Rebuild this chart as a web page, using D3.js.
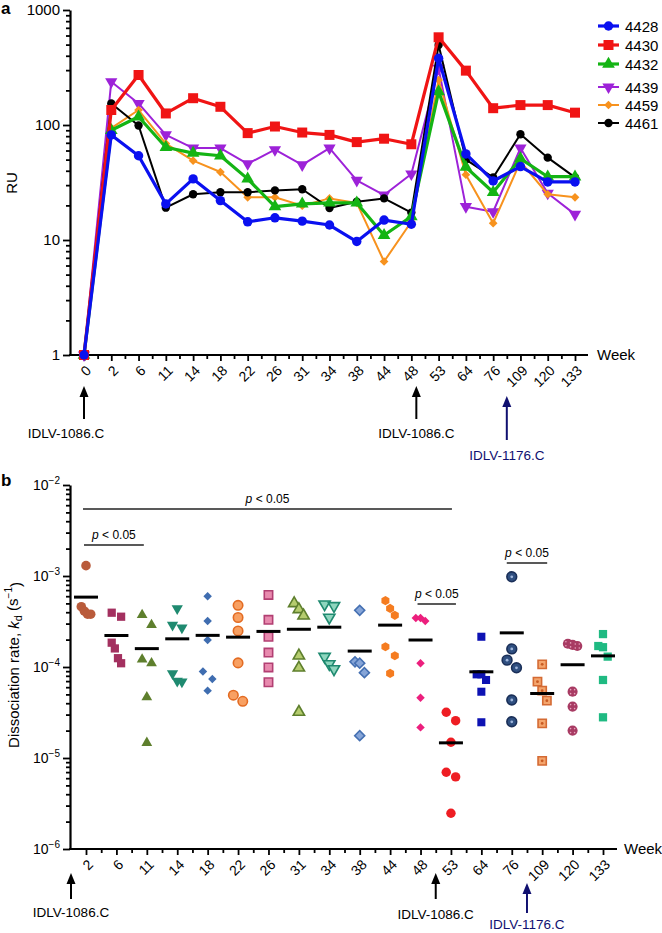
<!DOCTYPE html>
<html>
<head>
<meta charset="utf-8">
<script src="https://cdn.jsdelivr.net/npm/d3@7"></script>
<style>
  body { margin: 0; background: #fff; }
  svg { font-family: "Liberation Sans", Arial, sans-serif; }
</style>
</head>
<body>
<script>
// ---------- panel a data (RU per animal) ----------
const weeksA = ["0","2","6","11","14","18","22","26","31","34","38","44","48","53","64","76","109","120","133"];
const s4428 = [1, 82, 54, 20.6, 34, 22, 14.4, 15.6, 14.6, 13.5, 9.7, 14.9, 13.7, 380, 56, 32.6, 43.5, 32, 32];
const s4430 = [1, 135, 272, 126, 171, 144, 85, 97, 86, 82, 71, 76, 68, 579, 297, 140, 149, 149, 128];
const s4432 = [1, 90, 118, 64, 57, 54, 34, 19.5, 20.6, 21, 21, 11, 16, 195, 43, 26, 51, 35.5, 35.5];
const s4439 = [1, 238, 154, 82, 63, 63, 46, 61, 45, 63, 33, 24.6, 37.5, 311, 19.5, 17.6, 63, 25.5, 16.7];
const s4459 = [1, 94, 135, 69, 49, 39, 23.5, 23.5, 19.9, 23, 21, 6.5, 14.4, 246, 37, 14, 48, 25, 23.5];
const s4461 = [1, 154, 99, 19.1, 25, 26, 26, 27, 27.6, 19, 21.5, 23, 17.3, 496, 50, 35, 83, 52, 35];
const animals = ["4428","4430","4432","4439","4459","4461"];
const ticksA = [1, 10, 100, 1000];

// ---------- panel b data (kd, s^-1, per week) ----------
const weeksB = ["2","6","11","14","18","22","26","31","34","38","44","48","53","64","76","109","120","133"];
const kd_w2   = [1.3e-3, 4.6e-4, 4.1e-4, 3.8e-4, 3.8e-4];
const kd_w6   = [3.95e-4, 3.57e-4, 1.85e-4, 1.6e-4, 1.25e-4, 1.1e-4];
const kd_w11  = [3.73e-4, 2.9e-4, 1.21e-4, 1.1e-4, 4.65e-5, 1.47e-5];
const kd_w14  = [4.4e-4, 2.9e-4, 2.7e-4, 8.5e-5, 7.0e-5, 6.9e-5];
const kd_w18  = [6.0e-4, 3.2e-4, 1.98e-4, 8.9e-5, 7.4e-5, 5.5e-5];
const kd_w22  = [4.76e-4, 3.5e-4, 2.49e-4, 1.11e-4, 4.9e-5, 4.2e-5];
const kd_w26  = [6.2e-4, 3.3e-4, 2.15e-4, 1.44e-4, 9.9e-5, 6.8e-5];
const kd_w31  = [5.0e-4, 4.3e-4, 3.66e-4, 1.33e-4, 9.8e-5, 3.2e-5];
const kd_w34  = [4.9e-4, 4.7e-4, 3.5e-4, 1.3e-4, 1.08e-4, 9.5e-5];
const kd_w38  = [4.2e-4, 1.14e-4, 1.1e-4, 8.65e-5, 1.76e-5];
const kd_w44  = [5.36e-4, 4.4e-4, 3.7e-4, 1.67e-4, 1.33e-4, 8.5e-5];
const kd_w48  = [3.45e-4, 3.45e-4, 3.2e-4, 1.1e-4, 4.6e-5, 2.17e-5];
const kd_w53  = [3.18e-5, 2.57e-5, 1.49e-5, 6.97e-6, 6.2e-6, 2.47e-6];
const kd_w64  = [2.15e-4, 8.3e-5, 8.3e-5, 7.2e-5, 5.35e-5, 2.47e-5];
const kd_w76  = [9.8e-4, 1.58e-4, 1.19e-4, 9.8e-5, 4.34e-5, 2.5e-5];
const kd_w109 = [1.07e-4, 6.9e-5, 5.5e-5, 4.27e-5, 2.4e-5, 9.3e-6];
const kd_w120 = [1.8e-4, 1.75e-4, 1.7e-4, 5.36e-5, 3.67e-5, 2.0e-5];
const kd_w133 = [2.3e-4, 1.7e-4, 1.65e-4, 1.3e-4, 7.2e-5, 2.8e-5];
const kdByWeek = [kd_w2, kd_w6, kd_w11, kd_w14, kd_w18, kd_w22, kd_w26, kd_w31, kd_w34,
                  kd_w38, kd_w44, kd_w48, kd_w53, kd_w64, kd_w76, kd_w109, kd_w120, kd_w133];
const ticksB = [1e-6, 1e-5, 1e-4, 1e-3, 1e-2];
// significance comparisons (week pairs)
const comparisons = [["2","53"], ["2","11"], ["48","53"], ["76","109"]];
const pText = "< 0.05";

// ---------- styles ----------
const seriesStyle = {
  "4428": {color: "#0a10f0", w: 3.2, shape: "circle", size: 70},
  "4430": {color: "#f01414", w: 3.2, shape: "square", size: 100},
  "4432": {color: "#14b414", w: 3.2, shape: "triangle", size: 70},
  "4439": {color: "#9d22d8", w: 2, shape: "down", size: 65},
  "4459": {color: "#f7921e", w: 2, shape: "diamond", size: 38},
  "4461": {color: "#000000", w: 2, shape: "circle", size: 55}
};
const weekStyle = [
  {shape: "circle",   fill: "#b95b3b", size: 72},
  {shape: "square",   fill: "#a3305f", size: 68},
  {shape: "triangle", fill: "#5e7f2d", size: 50},
  {shape: "down",     fill: "#1f8a70", size: 55},
  {shape: "diamond",  fill: "#3f6db0", size: 36},
  {shape: "circle",   fill: "#f8a062", stroke: "#e36b22", size: 70},
  {shape: "square",   fill: "#e88aae", stroke: "#b23f72", size: 70},
  {shape: "triangle", fill: "#b5cc6e", stroke: "#5e7f2d", size: 55},
  {shape: "down",     fill: "#8ed6be", stroke: "#1f8a70", size: 55},
  {shape: "diamond",  fill: "#86a5d8", stroke: "#4570b2", size: 50},
  {shape: "hexagon",  fill: "#f57c20", size: 55},
  {shape: "diamond",  fill: "#ec1f7d", size: 36},
  {shape: "circle",   fill: "#ee1d23", size: 70},
  {shape: "square",   fill: "#0d12b3", size: 65},
  {shape: "circle",   fill: "#2f4f80", stroke: "#1a2f58", size: 75, dot: "#9fb6dc"},
  {shape: "square",   fill: "#f4a56d", stroke: "#d46a33", size: 68, dot: "#c85a22"},
  {shape: "circle",   fill: "#a83b63", size: 80, dots: "#e7a3be"},
  {shape: "square",   fill: "#1fba82", size: 68}
];

const width = 662, height = 933;
const svg = d3.select("body").append("svg").attr("width", width).attr("height", height);

const hexagon = {
  draw(ctx, size) {
    const r = Math.sqrt(size / (1.5 * Math.sqrt(3)));
    for (let i = 0; i < 6; i++) {
      const a = Math.PI / 6 + i * Math.PI / 3;
      i ? ctx.lineTo(r * Math.cos(a), r * Math.sin(a)) : ctx.moveTo(r * Math.cos(a), r * Math.sin(a));
    }
    ctx.closePath();
  }
};
function symbolPath(shape, size) {
  const type = {circle: d3.symbolCircle, square: d3.symbolSquare, triangle: d3.symbolTriangle,
                down: d3.symbolTriangle, diamond: d3.symbolSquare, hexagon: hexagon}[shape];
  return d3.symbol().type(type).size(size)();
}
function symbolRot(shape) {
  return shape === "down" ? " rotate(180)" : shape === "diamond" ? " rotate(45)" : "";
}
function styleAxis(g, fs) {
  g.attr("font-family", null).attr("font-size", fs);
  g.selectAll("line").attr("stroke-width", 1.8);
  g.selectAll(".domain").attr("stroke-width", 2.2);
}
function arrow(g, x, yTip, yEnd, color) {
  g.append("line").attr("x1", x).attr("x2", x).attr("y1", yTip + 6).attr("y2", yEnd)
    .attr("stroke", color).attr("stroke-width", 2);
  g.append("path").attr("d", `M${x},${yTip} L${x - 4.5},${yTip + 11} L${x + 4.5},${yTip + 11} Z`)
    .attr("fill", color);
}

// =================== panel a ===================
const xA = d3.scalePoint().domain(weeksA).range([84, 575]);
const xiA = d3.scaleLinear().domain([0, weeksA.length - 1]).range([84, 575]);
const yA = d3.scaleLog().domain([1, 1000]).range([355, 10]);
const gA = svg.append("g");

const minorA = [];
for (let e = 0; e < 3; e++) for (let m = 2; m < 10; m++) minorA.push(m * 10 ** e);

gA.append("g").attr("transform", "translate(70,0)")
  .call(d3.axisLeft(yA).tickValues(ticksA).tickFormat(d3.format("d")).tickSize(7).tickSizeOuter(0))
  .call(g => styleAxis(g, 15))
  .call(g => g.selectAll("text").attr("x", -10));
gA.append("g").attr("transform", "translate(70,0)")
  .call(d3.axisLeft(yA).tickValues(minorA).tickFormat("").tickSize(4))
  .call(g => styleAxis(g, 15))
  .call(g => g.select(".domain").remove());

gA.append("g").attr("transform", "translate(0,355)")
  .call(d3.axisBottom(xA).tickSize(6).tickSizeOuter(0))
  .call(g => styleAxis(g, 14))
  .call(g => g.select(".domain").remove())
  .call(g => g.selectAll("text").attr("x", 0).attr("y", 0).attr("dy", "0.35em")
    .attr("text-anchor", "end").attr("transform", "translate(4,13) rotate(-45)"));
gA.append("g").attr("transform", "translate(0,355)")
  .call(d3.axisBottom(xiA).tickValues(d3.range(0.5, weeksA.length - 1, 1)).tickFormat("").tickSize(4))
  .call(g => styleAxis(g, 14))
  .call(g => g.select(".domain").remove());
gA.append("line").attr("x1", 69).attr("x2", 588).attr("y1", 355).attr("y2", 355)
  .attr("stroke", "#000").attr("stroke-width", 2.2);

gA.append("text").attr("x", 597).attr("y", 360).attr("font-size", 15).text("Week");
gA.append("text").attr("transform", "translate(17,183) rotate(-90)").attr("text-anchor", "middle")
  .attr("font-size", 15).text("RU");
svg.append("text").attr("x", 1).attr("y", 14).attr("font-size", 17).attr("font-weight", "bold").text("a");

const seriesData = {"4428": s4428, "4430": s4430, "4432": s4432, "4439": s4439, "4459": s4459, "4461": s4461};
const drawOrder = ["4439", "4459", "4461", "4432", "4430", "4428"];
const line = d3.line().x((d, i) => xA(weeksA[i])).y(d => yA(d));
drawOrder.forEach(key => {
  const st = seriesStyle[key];
  const vals = seriesData[key];
  gA.append("path").datum(vals).attr("fill", "none").attr("stroke", st.color)
    .attr("stroke-width", st.w).attr("stroke-linejoin", "round").attr("d", line);
  gA.append("g").selectAll("path").data(vals).join("path")
    .attr("transform", (d, i) => `translate(${xA(weeksA[i])},${yA(d)})${symbolRot(st.shape)}`)
    .attr("d", symbolPath(st.shape, st.size)).attr("fill", st.color);
});

// legend
const legendY = [26, 45, 64, 87, 105, 123];
animals.forEach((key, i) => {
  const st = seriesStyle[key];
  const lg = gA.append("g").attr("transform", `translate(598,${legendY[i]})`);
  lg.append("line").attr("x1", 0).attr("x2", 21).attr("stroke", st.color).attr("stroke-width", st.w);
  lg.append("path").attr("transform", `translate(10.5,0)${symbolRot(st.shape)}`)
    .attr("d", symbolPath(st.shape, st.size)).attr("fill", st.color);
  lg.append("text").attr("x", 27).attr("y", 5.5).attr("font-size", 15).text(key);
});

// immunisation arrows (panel a)
arrow(gA, xA("0"), 386, 419, "#000");
arrow(gA, xA("48") + 5, 386, 419, "#000");
arrow(gA, (xA("76") + xA("109")) / 2, 396, 440, "#101070");
gA.append("text").attr("x", 66).attr("y", 438).attr("text-anchor", "middle").attr("font-size", 13.5).text("IDLV-1086.C");
gA.append("text").attr("x", xA("48") + 5).attr("y", 438).attr("text-anchor", "middle").attr("font-size", 13.5).text("IDLV-1086.C");
gA.append("text").attr("x", (xA("76") + xA("109")) / 2).attr("y", 460).attr("text-anchor", "middle")
  .attr("font-size", 13.5).attr("fill", "#101070").text("IDLV-1176.C");

// =================== panel b ===================
const xB = d3.scalePoint().domain(weeksB).range([86, 603]);
const xiB = d3.scaleLinear().domain([0, weeksB.length - 1]).range([86, 603]);
const yB = d3.scaleLog().domain([1e-6, 1e-2]).range([849, 485]);
const gB = svg.append("g");

const minorB = [];
for (let e = -6; e < -2; e++) for (let m = 2; m < 10; m++) minorB.push(m * 10 ** e);

gB.append("g").attr("transform", "translate(70,0)")
  .call(d3.axisLeft(yB).tickValues(ticksB).tickSize(7).tickSizeOuter(0))
  .call(g => styleAxis(g, 14))
  .call(g => g.selectAll("text").attr("x", -10).each(function(d) {
    const t = d3.select(this).text(null);
    t.append("tspan").text("10");
    t.append("tspan").attr("dy", "-0.55em").attr("font-size", 10).text("\u2212" + Math.round(-Math.log10(d)));
  }));
gB.append("g").attr("transform", "translate(70,0)")
  .call(d3.axisLeft(yB).tickValues(minorB).tickFormat("").tickSize(4))
  .call(g => styleAxis(g, 14))
  .call(g => g.select(".domain").remove());

gB.append("g").attr("transform", "translate(0,849)")
  .call(d3.axisBottom(xB).tickSize(6).tickSizeOuter(0))
  .call(g => styleAxis(g, 14))
  .call(g => g.select(".domain").remove())
  .call(g => g.selectAll("text").attr("x", 0).attr("y", 0).attr("dy", "0.35em")
    .attr("text-anchor", "end").attr("transform", "translate(4,13) rotate(-45)"));
gB.append("g").attr("transform", "translate(0,849)")
  .call(d3.axisBottom(xiB).tickValues(d3.range(0.5, weeksB.length - 1, 1)).tickFormat("").tickSize(4))
  .call(g => styleAxis(g, 14))
  .call(g => g.select(".domain").remove());
gB.append("line").attr("x1", 69).attr("x2", 617).attr("y1", 849).attr("y2", 849)
  .attr("stroke", "#000").attr("stroke-width", 2.2);

gB.append("text").attr("x", 624).attr("y", 854).attr("font-size", 15).text("Week");
svg.append("text").attr("x", 1).attr("y", 486).attr("font-size", 17).attr("font-weight", "bold").text("b");

const yl = gB.append("text").attr("transform", "translate(19,665) rotate(-90)").attr("text-anchor", "middle").attr("font-size", 15);
yl.append("tspan").text("Dissociation rate, ");
yl.append("tspan").attr("font-style", "italic").text("k");
yl.append("tspan").attr("font-size", 11).attr("dy", "0.3em").text("d");
yl.append("tspan").attr("dy", "-0.3em").text(" (s");
yl.append("tspan").attr("font-size", 10).attr("dy", "-0.6em").text("\u22121");
yl.append("tspan").attr("dy", "0.6em").text(")");

// scatter with simple clustering of close points (prism-like)
function swarm(vals) {
  const pts = vals.map(v => ({v, y: yB(v)})).sort((a, b) => a.y - b.y);
  const clusters = [];
  pts.forEach(p => {
    const last = clusters[clusters.length - 1];
    if (last && p.y - last[last.length - 1].y < 10.5) last.push(p); else clusters.push([p]);
  });
  clusters.forEach(c => {
    const n = c.length;
    c.forEach((p, i) => { p.dx = n === 1 ? 0 : (i / (n - 1) - 0.5) * 9.4; });
  });
  return pts;
}

weeksB.forEach((wk, i) => {
  const st = weekStyle[i];
  const pts = swarm(kdByWeek[i]);
  const cx = xB(wk);
  const g = gB.append("g");
  const mk = g.selectAll("g").data(pts).join("g")
    .attr("transform", d => `translate(${cx + d.dx},${d.y})`);
  mk.append("path").attr("transform", symbolRot(st.shape).trim())
    .attr("d", symbolPath(st.shape, st.size))
    .attr("fill", st.fill).attr("stroke", st.stroke || "none").attr("stroke-width", st.stroke ? 1.6 : 0);
  if (st.dot) mk.append("circle").attr("r", 1.4).attr("fill", st.dot);
  if (st.dots) [[-2, -2], [2, -2], [-2, 2], [2, 2]].forEach(([dx, dy]) =>
    mk.append("circle").attr("cx", dx).attr("cy", dy).attr("r", 0.8).attr("fill", st.dots));
  // mean line
  const m = d3.mean(kdByWeek[i]);
  g.append("line").attr("x1", cx - 12).attr("x2", cx + 12).attr("y1", yB(m)).attr("y2", yB(m))
    .attr("stroke", "#000").attr("stroke-width", 3);
});

// significance bars
const barY = [509, 545, 604, 563];
const barPad = [[-3, 1], [-2, -3], [-3, 5], [-5, 5]];
comparisons.forEach(([a, b], i) => {
  const x1 = xB(a) + barPad[i][0], x2 = xB(b) + barPad[i][1];
  gB.append("line").attr("x1", x1).attr("x2", x2).attr("y1", barY[i]).attr("y2", barY[i])
    .attr("stroke", "#222").attr("stroke-width", 1.5);
  const t = gB.append("text").attr("x", (x1 + x2) / 2).attr("y", barY[i] - 6)
    .attr("text-anchor", "middle").attr("font-size", 12);
  t.append("tspan").attr("font-style", "italic").text("p");
  t.append("tspan").text(" " + pText);
});

// immunisation arrows (panel b)
arrow(gB, 71, 873, 899, "#000");
arrow(gB, (xB("48") + xB("53")) / 2, 873, 899, "#000");
arrow(gB, (xB("76") + xB("109")) / 2, 883, 913, "#101070");
gB.append("text").attr("x", 71).attr("y", 917).attr("text-anchor", "middle").attr("font-size", 13.5).text("IDLV-1086.C");
gB.append("text").attr("x", (xB("48") + xB("53")) / 2).attr("y", 919).attr("text-anchor", "middle").attr("font-size", 13.5).text("IDLV-1086.C");
gB.append("text").attr("x", (xB("76") + xB("109")) / 2).attr("y", 929).attr("text-anchor", "middle")
  .attr("font-size", 13.5).attr("fill", "#101070").text("IDLV-1176.C");
</script>
</body>
</html>
